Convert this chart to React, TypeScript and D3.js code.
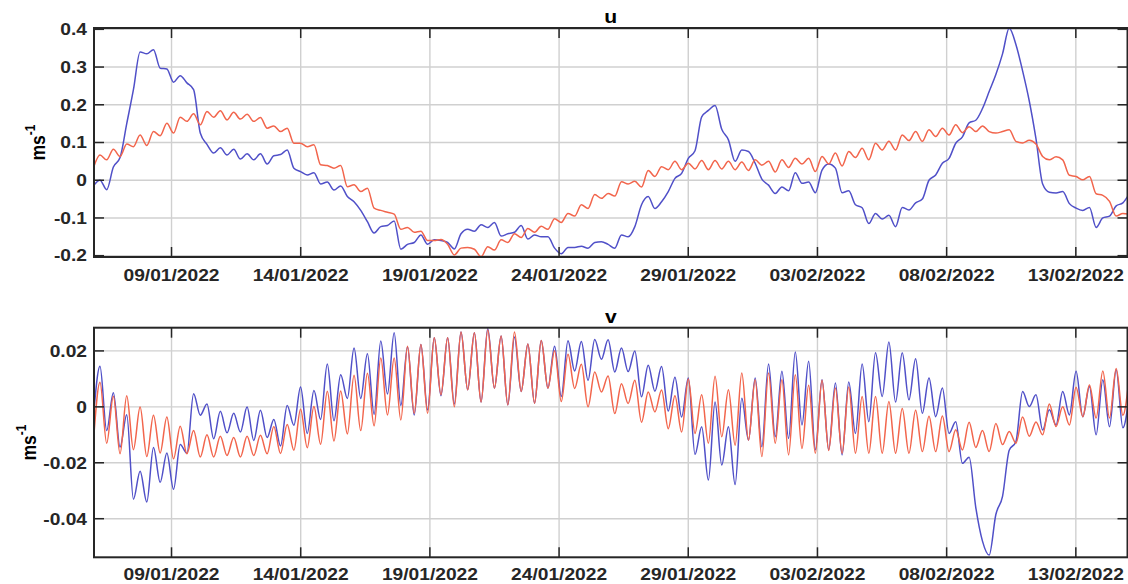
import React from 'react';
import * as d3 from 'd3';

// ---- sampling (half M2 tidal period) ----
const SAMPLE_START = Date.UTC(2022, 0, 6) - 0.64 * 3600e3;
const SAMPLE_STEP_HOURS = 6.21;

// ---- axis ----
const X_START = '06/01/2022';
const X_END = '15/02/2022';
const DATE_TICKS = ['09/01/2022', '14/01/2022', '19/01/2022', '24/01/2022', '29/01/2022', '03/02/2022', '08/02/2022', '13/02/2022'];
const U_TICKS = [-0.2, -0.1, 0, 0.1, 0.2, 0.3, 0.4];
const U_TICK_LABELS = ['-0.2', '-0.1', '0', '0.1', '0.2', '0.3', '0.4'];
const V_TICKS = [-0.04, -0.02, 0, 0.02];
const V_TICK_LABELS = ['-0.04', '-0.02', '0', '0.02'];

// ---- u component (cm/s) ----
const uBlue = [-1.5,
  0, -2.5, 3.5, 6, 15, 24, 34, 33.5, 34.6, 29.7,
  29.5, 26, 27.7, 25.8, 24, 12.5, 9.5, 7.2, 8.6, 6.7,
  8.2, 5.6, 7, 5.4, 7, 4.3, 6.5, 6.8, 8, 3.2,
  2.3, 1.4, 2, -1, -0.5, -2.6, -1.5, -4.3, -5.7, -8,
  -11, -14, -12.3, -12, -10.8, -18.3, -17, -16.5, -14.5, -17,
  -15.8, -16, -16.5, -18.2, -14.2, -13, -13.5, -11.8, -12.5, -11.2,
  -14.8, -14.2, -13.8, -12, -15.6, -14.5, -15, -15, -18, -19.5,
  -17.8, -17.8, -17.5, -18, -16.5, -16.3, -17, -18, -14.5, -15,
  -12.3, -6.5, -4.3, -7.5, -5.7, -3, 0.5, 1.8, 5.8, 7.8,
  16.8, 18.5, 19.8, 13.5, 10.7, 5, 8, 7.6, 4.5, 0.3,
  -1.3, -3.5, -1.8, -2.8, 2, -0.8, -0.5, -3.3, 2.7, 4.3,
  3.2, -3.3, -2.8, -6.5, -7.3, -11.5, -8.8, -10.3, -9.3, -12.3,
  -7.2, -7.9, -6, -5, 0, 1.4, 4.5, 5.8, 9.8, 11.5,
  15.2, 15.9, 19, 23.5, 28, 33.5, 40.3, 36, 29, 21,
  11, -1, -3.2, -3.4, -3, -6.2, -7.4, -8, -7.2, -12.5,
  -10, -9.5, -6.8, -6, -3.5];

const uRed = [3.2,
  6.7, 5.4, 8.2, 6.3, 9.6, 8.9, 12, 9.2, 12.9, 11.8,
  15.1, 12.5, 16.7, 15.6, 17.6, 14.7, 18.2, 16.7, 18.4, 16,
  18, 16.2, 17.5, 15.6, 16.6, 13.8, 14.4, 12.9, 13.8, 9.8,
  9.8, 8.9, 9.4, 4.1, 3.9, 3.2, 3.9, -1.7, -1.2, -3,
  -2.1, -7.4, -8, -8.5, -9, -13, -12.5, -13.8, -13.5, -16,
  -16, -15.7, -17, -19.8, -18, -17.8, -18.3, -20.3, -17.6, -18.5,
  -15.8, -16.5, -14.2, -15.2, -12.8, -13.8, -12.2, -13, -10.2, -11.2,
  -8.8, -9.5, -6.5, -7.5, -3.8, -4.8, -3.5, -4.2, -0.4, -1,
  -0.3, -1.8, 2.6, 1, 3.6, 2.8, 5, 2.8, 4.5, 3,
  5.2, 2.8, 5.2, 3, 5, 2.8, 4.8, 2.6, 5.4, 4,
  5, 2.2, 5.4, 3.4, 5.8, 4.3, 5.8, 2.3, 6.3, 4.3,
  7.2, 3.8, 7.6, 6, 8.5, 5.4, 9.8, 8, 10.3, 8,
  12, 10.5, 12.9, 10.3, 13.4, 11.6, 13.8, 12, 14.7, 12.6,
  14.2, 12.9, 14.4, 12.9, 12.5, 12.9, 13.4, 10.3, 9.9, 10.6,
  9.6, 6.3, 5.4, 6.2, 5.4, 1.3, 1, 0.1, 1, -3.6,
  -4, -5.6, -9.5, -8.8, -9];

// ---- v component (mm/s) ----
const vBlue = [-4,
  14.5, -8.5, 5.0, -14.4, -2.8, -33, -23, -34, -14.5, -27,
  -16.5, -29.5, -13.5, -16.6, 4.7, -3, 1, -11.4, -1.6, -9.3,
  -2.3, -9, -0.1, -12, -1.2, -11, -4.5, -14, 0.5, -6.6,
  7.1, -9.5, 5.8, -4.5, 15.3, -5, 11.5, 3, 21, 3,
  19, -2.7, 23.5, 4.6, 26.5, 0.5, 21.5, -2.9, 22.3, -1.1,
  24.7, 4, 24.7, 1, 26.8, 6.1, 26.5, 1.7, 28, 6.7,
  25.3, 0.7, 25, 5.5, 22.5, 1.3, 23.7, 6.7, 21.7, 3.7,
  23.6, 12.8, 23.4, 9.5, 24.1, 17, 24, 12.5, 21, 12.6,
  20, 3.6, 14.9, 5.6, 14.4, -1.5, 10.6, -3.6, 10.3, -17,
  -7.1, -26.2, 1.7, -20.8, -7.1, -27.8, 3.1, -11.9, 10.3, -14.3,
  15.3, -10.7, 12.7, -11.3, 19.6, -6.5, 16.3, -15.4, 9.7, -15.4,
  8.5, -17.2, 8.9, -9.5, 15.3, -5.3, 19.3, 3.7, 23.2, 1.7,
  19.3, 2.5, 17.2, -2.3, 10.3, -3.5, 6.7, -9.5, -5.3, -20.2,
  -18, -36, -48, -53, -38.5, -32, -15.5, -12.5, 5.5, 0.1,
  4.3, -8.3, -1, -6.5, 5.5, -2.9, 12.7, -3.5, 7.3, -10,
  9.7, -7.1, 13.3, -7.5, 5];

const vRed = [-13,
  8.8, -13, 3.8, -16.8, 4.0, -15.3, -0.1, -17.8, -3, -16.5,
  -3.6, -18.6, -6.9, -16.8, -8.5, -17.9, -10, -17.9, -10.5, -17.4,
  -11, -17.9, -10.5, -17.4, -10.2, -16.8, -7, -16.7, -6.3, -15.5,
  -0.9, -14.6, 0.1, -13.4, 5.6, -12.2, 5.7, -9.7, 11.3, -8.5,
  12, -6.8, 17.5, -2.9, 17.5, -4.7, 21.7, -2.3, 22.3, -2.3,
  24.7, 4.3, 24.7, 0, 26.8, 6.1, 26.5, 1.7, 27.5, 6.7,
  25.3, 0.7, 26.8, 5.5, 22.5, 1.3, 23.7, 6.7, 20.1, 1.9,
  18.8, 6.6, 15.2, 0, 12.5, 5.3, 11, -2.4, 8.3, 1.2,
  9.5, -5.5, 5.3, -1.8, 6, -7.8, 4, -9, 10, -9.5,
  4.3, -13, 10.9, -10.7, 6.1, -13.7, 12.1, -11.9, 9.7, -17.8,
  12.1, -13, 9.7, -17.2, 11.5, -14.9, 7.7, -16.6, 9.5, -15.6,
  6.7, -16.6, 7.1, -16.6, 3.7, -16.6, 3.7, -16.6, 1.9, -16.6,
  -0.6, -16.6, -1.2, -16, -3.4, -16, -3.3, -16, -8.2, -15.4,
  -5.5, -14.5, -8.5, -16, -6, -13.5, -8.8, -13, -3.6, -10.5,
  -5.4, -10, 1, -7, 0, -6.5, 7, -3.5, 7.8, -4,
  12.8, -4, 13.7, -3, 12];

// ---- styling ----
const FONT = "'Liberation Sans', Arial, Helvetica, sans-serif";
const SX = 1.2;
const BLUE = '#5050c8';
const RED = '#f2654c';
const AXIS = '#262626';
const GRID = '#d0d0d0';
const X0 = 94;
const X1 = 1127.5;
const TICK_LEN = 10;

const parseDate = d3.utcParse('%d/%m/%Y');

interface PanelSpec {
  title: string;
  top: number;
  bottom: number;
  domain: [number, number];
  ticks: number[];
  tickLabels: string[];
  unit: number;
  blue: number[];
  red: number[];
  titleY: number;
  xLabelY: number;
  yLabelX: number;
  id: string;
}

const PANELS: PanelSpec[] = [
  { id: 'pu', title: 'u', top: 28, bottom: 257, domain: [-0.2035, 0.4035], ticks: U_TICKS, tickLabels: U_TICK_LABELS, unit: 0.01, blue: uBlue, red: uRed, titleY: 23.3, xLabelY: 281, yLabelX: 45 },
  { id: 'pv', title: 'v', top: 327.7, bottom: 557.3, domain: [-0.0538, 0.0283], ticks: V_TICKS, tickLabels: V_TICK_LABELS, unit: 0.001, blue: vBlue, red: vRed, titleY: 322.7, xLabelY: 580, yLabelX: 36 },
];

function Panel({ p }: { p: PanelSpec }) {
  const x = d3.scaleUtc().domain([parseDate(X_START)!, parseDate(X_END)!]).range([X0, X1]);
  const y = d3.scaleLinear().domain(p.domain).range([p.bottom, p.top]);
  const stepMs = SAMPLE_STEP_HOURS * 3600e3;
  const line = d3.line<number>()
    .x((_, i) => x(new Date(SAMPLE_START + i * stepMs)))
    .y((d) => y(d * p.unit))
    .curve(d3.curveMonotoneX);
  const xTicks = DATE_TICKS.map((s) => ({ label: s, pos: x(parseDate(s)!) }));
  const cx = (X0 + X1) / 2;
  const cy = (p.top + p.bottom) / 2;
  return (
    <g>
      <defs>
        <clipPath id={p.id + 'clip'}>
          <rect x={X0} y={p.top} width={X1 - X0} height={p.bottom - p.top} />
        </clipPath>
      </defs>
      <rect x={X0} y={p.top} width={X1 - X0} height={p.bottom - p.top} fill="#fff" />
      {xTicks.map((t) => (
        <line key={'gx' + t.label} x1={t.pos} x2={t.pos} y1={p.top} y2={p.bottom} stroke={GRID} strokeWidth={1.4} />
      ))}
      {p.ticks.map((v) => (
        <line key={'gy' + v} x1={X0} x2={X1} y1={y(v)} y2={y(v)} stroke={GRID} strokeWidth={1.4} />
      ))}
      <g clipPath={`url(#${p.id}clip)`}>
        <path d={line(p.blue) || ''} fill="none" stroke={BLUE} strokeWidth={1.5} strokeLinejoin="round" />
        <path d={line(p.red) || ''} fill="none" stroke={RED} strokeWidth={1.5} strokeLinejoin="round" />
      </g>
      <rect x={X0} y={p.top} width={X1 - X0} height={p.bottom - p.top} fill="none" stroke={AXIS} strokeWidth={2} />
      {xTicks.map((t) => (
        <g key={'tx' + t.label}>
          <line x1={t.pos} x2={t.pos} y1={p.bottom} y2={p.bottom - TICK_LEN} stroke={AXIS} strokeWidth={1.5} />
          <line x1={t.pos} x2={t.pos} y1={p.top} y2={p.top + TICK_LEN} stroke={AXIS} strokeWidth={1.5} />
          <text transform={`translate(${t.pos},${p.xLabelY}) scale(${SX},1)`} textAnchor="middle" fontFamily={FONT} fontWeight="bold" fontSize={16} fill={AXIS}>{t.label}</text>
        </g>
      ))}
      {p.ticks.map((v, i) => (
        <g key={'ty' + v}>
          <line x1={X0} x2={X0 + TICK_LEN} y1={y(v)} y2={y(v)} stroke={AXIS} strokeWidth={1.5} />
          <line x1={X1} x2={X1 - TICK_LEN} y1={y(v)} y2={y(v)} stroke={AXIS} strokeWidth={1.5} />
          <text transform={`translate(87,${y(v) + 5.8}) scale(${SX},1)`} textAnchor="end" fontFamily={FONT} fontWeight="bold" fontSize={16} fill={AXIS}>{p.tickLabels[i]}</text>
        </g>
      ))}
      <text transform={`translate(${cx},${p.titleY}) scale(${SX},1)`} textAnchor="middle" fontFamily={FONT} fontWeight="bold" fontSize={17.6} fill="#000">{p.title}</text>
      <text transform={`translate(${p.yLabelX},${cy}) scale(${SX},1) rotate(-90)`} textAnchor="middle" fontFamily={FONT} fontWeight="bold" fontSize={17.6} fill="#000">
        ms<tspan dy={-8} fontSize={12}>-1</tspan>
      </text>
    </g>
  );
}

export default function App() {
  return (
    <svg width={1128} height={584} style={{ position: 'absolute', left: 0, top: 0, background: '#fff' }}>
      <rect x={0} y={0} width={1128} height={584} fill="#fff" />
      {PANELS.map((p) => (
        <Panel key={p.id} p={p} />
      ))}
    </svg>
  );
}
